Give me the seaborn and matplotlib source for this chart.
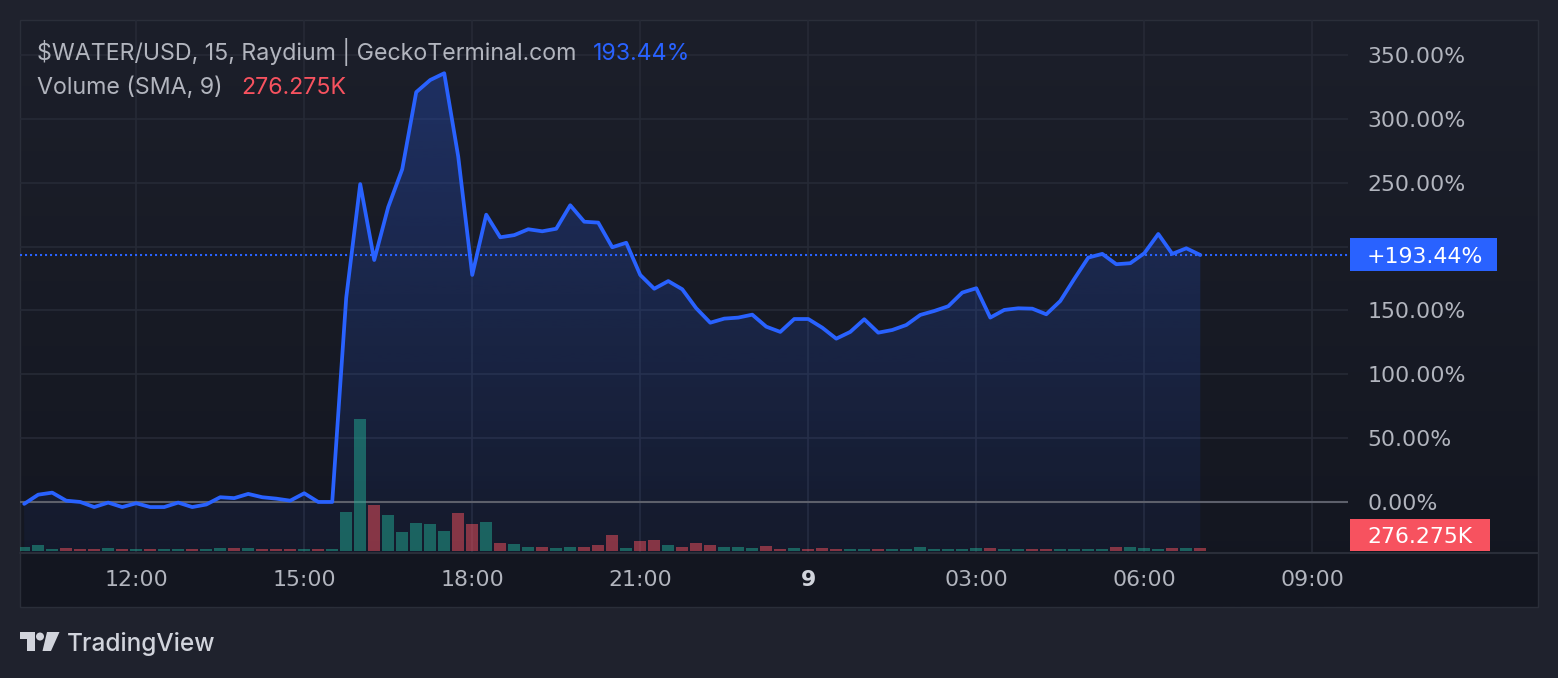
import numpy as np
import pandas as pd
import matplotlib
matplotlib.use("Agg")
import matplotlib.pyplot as plt
import matplotlib.transforms as mtransforms
from matplotlib.colors import to_rgb
from matplotlib.patches import Polygon, Rectangle, Circle
from matplotlib.dates import date2num
import seaborn as sns

# ---- data (15 min candles, % change vs first close) ----
times = pd.date_range("2024-05-08 10:00", "2024-05-09 07:00", freq="15min")
change_pct = [
    -1.5, 5.7, 7.3, 1.0, 0.0, -4.0, -0.5, -4.0, -1.0, -4.0,
    -4.0, -0.5, -4.0, -2.0, 3.7, 3.0, 6.3, 3.7, 2.6, 1.0,
    6.8, 0.0, 0.0, 160.0, 249.0, 189.5, 231.0, 260.6, 321.0, 330.5,
    335.8, 270.5, 177.8, 225.0, 207.3, 209.0, 213.6, 212.0, 214.0, 232.4,
    219.5, 218.8, 199.5, 203.0, 177.8, 167.0, 173.0, 166.6, 151.7, 140.4,
    143.6, 144.4, 146.7, 137.3, 133.2, 143.3, 143.3, 136.5, 127.9, 133.2,
    143.1, 132.6, 134.7, 138.6, 146.5, 149.6, 153.3, 164.0, 167.4, 144.4,
    150.4, 151.7, 151.4, 147.0, 157.4, 174.7, 191.4, 194.3, 186.2, 187.0,
    194.8, 209.9, 194.3, 198.7, 193.44,
]
volume_k = [
    340, 524, 156, 248, 156, 156, 248, 156, 156, 156,
    156, 156, 156, 156, 248, 248, 248, 156, 156, 156,
    156, 156, 156, 3560, 12116, 4204, 3284, 1720, 2548, 2456,
    1812, 3468, 2456, 2640, 708, 616, 340, 368, 276, 368,
    368, 552, 1472, 276, 920, 1012, 552, 368, 736, 552,
    368, 368, 276, 460, 184, 276, 184, 276, 184, 184,
    184, 184, 184, 184, 368, 184, 184, 184, 276, 276,
    184, 184, 184, 184, 184, 184, 184, 184, 368, 368,
    276, 184, 276, 276, 276.275,
]
volume_dir = [
    "g", "g", "g", "r", "r", "r", "g", "r", "g", "r",
    "g", "g", "r", "g", "g", "r", "g", "r", "r", "r",
    "g", "r", "g", "g", "g", "r", "g", "g", "g", "g",
    "g", "r", "r", "g", "r", "g", "g", "r", "g", "g",
    "r", "r", "r", "g", "r", "r", "g", "r", "r", "r",
    "g", "g", "g", "r", "r", "g", "r", "r", "r", "g",
    "g", "r", "g", "g", "g", "g", "g", "g", "g", "r",
    "g", "g", "r", "r", "g", "g", "g", "g", "r", "g",
    "g", "g", "r", "g", "r",
]
tick_times = ["2024-05-08 12:00", "2024-05-08 15:00", "2024-05-08 18:00",
              "2024-05-08 21:00", "2024-05-09 00:00", "2024-05-09 03:00",
              "2024-05-09 06:00", "2024-05-09 09:00"]
tick_labels = ["12:00", "15:00", "18:00", "21:00", "9", "03:00", "06:00", "09:00"]
pct_ticks = [0, 50, 100, 150, 200, 250, 300, 350]
pct_labels = [f"{v:.2f}%" for v in pct_ticks]
last_change = 193.44
last_volume = "276.275K"

# ---- style ----
sns.set_style("dark")
plt.rcParams["font.family"] = ["DejaVu Sans"]
UI_FONT = ["Inter", "DejaVu Sans"]

BLUE = "#2962ff"
RED = "#f7525f"
GREEN = "#22ab94"
TXT = "#b2b5be"
GRID = "#262a36"
LIGHT = "#d1d4dc"

W, H = 1558, 678
fig = plt.figure(figsize=(W / 100, H / 100), dpi=100)
fig.patch.set_facecolor("#1f222d")

# panel background (pixel coordinates)
bg = fig.add_axes([0, 0, 1, 1])
bg.axis("off")
top_c = np.array([28, 31, 42]) / 255
bot_c = np.array([19, 22, 32]) / 255
g = np.linspace(0, 1, 256)[:, None, None]
bg.imshow(top_c * (1 - g) + bot_c * g, extent=[20, 1538, 607, 20],
          aspect="auto", interpolation="bilinear")
bg.set_xlim(0, W)
bg.set_ylim(H, 0)
bg.add_patch(Rectangle((20, 20), 1518, 587, fill=False, ec="#2a2e39", lw=1.0))
bg.plot([20, 1538], [552.5, 552.5], color="#2a2e39", lw=1.5)

# logo + brand
bg.add_patch(Polygon([(20, 632), (35, 632), (35, 651), (27.5, 651), (27.5, 639), (20, 639)],
                     closed=True, fc=LIGHT, ec="none"))
bg.add_patch(Circle((40, 636.5), 4, fc=LIGHT, ec="none"))
bg.add_patch(Polygon([(47, 632), (59.5, 632), (51, 651), (42.5, 651)], closed=True, fc=LIGHT, ec="none"))
bg.text(67, 651, "TradingView", color=LIGHT, fontsize=17.6, fontweight="medium",
        family=UI_FONT, va="baseline", ha="left")

# ---- main price axes ----
ax = fig.add_axes([20 / W, 1 - 552 / H, 1328 / W, 532 / H])
ax.set_facecolor("none")
x = date2num(times.to_pydatetime())
step = x[1] - x[0]
y_lo, y_hi = -39.2, 377.5
x_lo, x_hi = x[0] - 0.3 * step, x[0] + 94.55 * step

# gradient area under the line
fill_img = np.zeros((256, 1, 4))
fill_img[..., :3] = np.array(to_rgb(BLUE))
fill_img[..., 3] = np.linspace(0.27, 0.05, 256)[:, None]
im = ax.imshow(fill_img, extent=[x[0], x[-1], y_lo, max(change_pct)],
               aspect="auto", origin="upper", zorder=1, interpolation="bilinear")
poly = Polygon(np.column_stack([np.r_[x[0], x, x[-1]], np.r_[y_lo, change_pct, y_lo]]),
               closed=True, fc="none", ec="none", transform=ax.transData)
ax.add_patch(poly)
im.set_clip_path(poly)

ax.axhline(0, color="#5d606b", lw=1.5, zorder=2)
ax.axhline(last_change, color=BLUE, lw=1.5, ls=(0, (1, 1.4)), zorder=2)
sns.lineplot(x=x, y=change_pct, ax=ax, color=BLUE, linewidth=2.7, zorder=4)

# ---- volume pane (twin axis, created before tick setup: twinx resets ticks) ----
ax2 = ax.twinx()
bar_colors = [GREEN if d == "g" else RED for d in volume_dir]
ax2.bar(x, volume_k, width=step * 12 / 14, color=bar_colors, alpha=0.5, linewidth=0, zorder=3)
ax2.set_ylim(-92, 532 * 92 - 92)
ax2.set_yticks([])
ax2.grid(False)
for s in ax2.spines.values():
    s.set_visible(False)

ax.set_xlim(x_lo, x_hi)
ax.set_ylim(y_lo, y_hi)
ax.set_xticks(date2num(pd.to_datetime(tick_times).to_pydatetime()))
ax.set_xticklabels(tick_labels)
ax.set_yticks(pct_ticks)
ax.set_yticklabels(pct_labels, va="center_baseline")
ax.grid(True, color=GRID, lw=1.2)
ax.set_axisbelow(True)
ax.yaxis.tick_right()
ax.tick_params(axis="x", colors=TXT, labelsize=15.8, length=0, pad=13)
ax.tick_params(axis="y", colors=TXT, labelsize=15.8, length=0, pad=14,
               left=False, right=False, labelleft=False, labelright=True)
day_lbl = ax.get_xticklabels()[4]
day_lbl.set_fontweight("bold")
day_lbl.set_color(LIGHT)
for s in ax.spines.values():
    s.set_visible(False)
ax.set_xlabel("")
ax.set_ylabel("")

# last-value tags on the price scale
tr = mtransforms.blended_transform_factory(ax.transAxes, ax.transData)
box_h = 33 / (532 / (y_hi - y_lo))
ax2.add_patch(Rectangle((1330 / 1328, last_change - box_h / 2), 147 / 1328, box_h,
                        transform=tr, fc=BLUE, ec="none", clip_on=False, zorder=20))
ax2.text(1347 / 1328, last_change, "+193.44%", transform=tr, color="white",
         fontsize=15.8, va="center_baseline", ha="left", clip_on=False, zorder=21)
ax2.add_patch(Rectangle((1330 / 1328, 1 / 532), 140 / 1328, 32 / 532, transform=ax.transAxes,
                        fc=RED, ec="none", clip_on=False, zorder=20))
ax2.text(1347 / 1328, 17 / 532, last_volume, transform=ax.transAxes, color="white",
         fontsize=15.8, va="center_baseline", ha="left", clip_on=False, zorder=21)

# legend lines top-left
fig.text(37 / W, 1 - 60 / H, "$WATER/USD, 15, Raydium | GeckoTerminal.com",
         color=TXT, fontsize=16.7, family=UI_FONT, va="baseline", ha="left")
fig.text(593 / W, 1 - 60 / H, "193.44%", color=BLUE, fontsize=16.7, family=UI_FONT,
         va="baseline", ha="left")
fig.text(37 / W, 1 - 94 / H, "Volume (SMA, 9)", color=TXT, fontsize=16.7, family=UI_FONT,
         va="baseline", ha="left")
fig.text(241 / W, 1 - 94 / H, last_volume, color=RED, fontsize=16.7, family=UI_FONT,
         va="baseline", ha="left")

fig.savefig("out.png", dpi=100, facecolor=fig.get_facecolor())
